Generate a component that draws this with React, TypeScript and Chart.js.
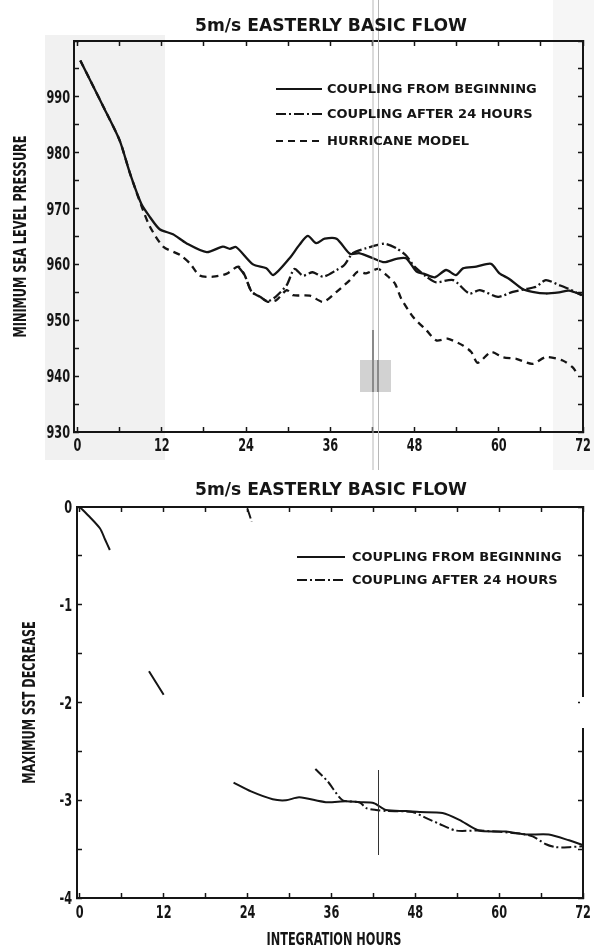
import { useEffect, useRef } from "react";
import { Chart, registerables } from "chart.js";

Chart.register(...registerables);

// ---------- text ----------
const TITLE = "5m/s EASTERLY BASIC FLOW";
const X_LABEL = "INTEGRATION HOURS";
const Y_LABEL_TOP = "MINIMUM SEA LEVEL PRESSURE";
const Y_LABEL_BOTTOM = "MAXIMUM SST DECREASE";
const LABEL_BEGIN = "COUPLING FROM BEGINNING";
const LABEL_AFTER24 = "COUPLING AFTER 24 HOURS";
const LABEL_HURRICANE = "HURRICANE MODEL";

// ---------- ticks ----------
const X_TICKS = [0, 6, 12, 18, 24, 30, 36, 42, 48, 54, 60, 66, 72];
const Y_TICKS_TOP = [930, 935, 940, 945, 950, 955, 960, 965, 970, 975, 980, 985, 990, 995, 1000];
const Y_TICKS_BOTTOM = [-4, -3.5, -3, -2.5, -2, -1.5, -1, -0.5, 0];

// ---------- top panel: minimum sea level pressure (mb) ----------
const P_BEGIN_HOURS = [0.4, 2, 3.7, 6, 7.5, 9.1, 10.3, 11.7, 13.6, 15.5, 18.4, 20.7, 21.7, 22.6, 25, 26.9, 27.9, 30.2, 31.6, 32.8, 34, 35.2, 36.9, 38.8, 40.2, 42.1, 43.7, 45.4, 46.8, 48.3, 49.4, 50.9, 52.5, 53.9, 54.9, 56.8, 58.9, 60.1, 61.5, 63.4, 64.8, 66.7, 68.6, 70, 72];
const P_BEGIN_VALUES = [996.5, 992.5, 988.2, 982.2, 976.2, 970.8, 968.5, 966.3, 965.4, 963.8, 962.2, 963.2, 962.8, 963.1, 960, 959.3, 958.1, 961.1, 963.5, 965.1, 963.8, 964.6, 964.6, 961.9, 962, 961.1, 960.4, 961, 961.1, 958.7, 958.3, 957.7, 959, 958.1, 959.3, 959.6, 960.1, 958.4, 957.4, 955.6, 955.1, 954.8, 955, 955.3, 954.5];

const P_AFTER24_HOURS = [22.9, 23.8, 24.8, 26, 27.1, 28.3, 29.8, 30.9, 32.1, 33.5, 35, 36.9, 38, 39.2, 41.1, 43.7, 45.4, 46.8, 48, 49.7, 51.1, 53.5, 55.8, 57.3, 59.9, 62, 63.9, 65.3, 66.7, 68.6, 70, 71.8];
const P_AFTER24_VALUES = [959.6, 958.1, 955.1, 954.2, 953.4, 954.3, 956.3, 959.2, 958, 958.6, 957.8, 959, 959.9, 962, 962.9, 963.7, 962.9, 961.6, 959.6, 957.8, 956.8, 957.2, 954.8, 955.4, 954.2, 955.1, 955.6, 956, 957.2, 956.3, 955.6, 954.5];

const P_HURRICANE_HOURS = [0.4, 2, 3.7, 6, 7.5, 9.1, 10.3, 12.2, 14.6, 16, 17.4, 19.3, 21.2, 22.9, 23.8, 24.8, 26, 27.1, 28.3, 29.8, 30.7, 33.1, 35, 36.9, 38.8, 39.9, 41.1, 42.8, 44, 45.2, 46.1, 47.8, 49.7, 51.1, 52.7, 54.9, 56.1, 57, 58.9, 60.6, 62.5, 64.8, 66.7, 69.1, 70.5, 71.2];
const P_HURRICANE_VALUES = [996.5, 992.5, 988.2, 982.2, 976.2, 970.5, 966.8, 963.2, 961.7, 960.2, 958, 957.8, 958.3, 959.6, 958.1, 955.1, 954.2, 953.3, 953.6, 955.4, 954.5, 954.4, 953.3, 955.1, 957.2, 958.7, 958.4, 959.2, 958.1, 956.6, 953.9, 950.6, 948.2, 946.4, 946.7, 945.5, 944.3, 942.4, 944.3, 943.4, 943.1, 942.2, 943.4, 942.8, 941.6, 940.4];

// ---------- bottom panel: maximum SST decrease (deg C); null = not visible ----------
const SST_BEGIN_HOURS = [0, 1.4, 2.9, 3.6, 4.3, 7, 9.9, 12, 17, 22, 24.5, 27.6, 29.5, 31.4, 35.2, 38.1, 40, 42.1, 43.8, 46.7, 48.6, 51.9, 54.3, 57.1, 61, 63.8, 67.1, 70, 72];
const SST_BEGIN_VALUES = [0, -0.1, -0.22, -0.33, -0.44, null, -1.68, -1.92, null, -2.82, -2.91, -2.99, -3.0, -2.97, -3.02, -3.01, -3.02, -3.03, -3.1, -3.11, -3.12, -3.13, -3.2, -3.31, -3.32, -3.35, -3.35, -3.41, -3.46];

const SST_AFTER24_HOURS = [24, 24.6, 28, 33.7, 35.5, 37.6, 40, 41, 42.4, 43.8, 47.6, 49.5, 51.4, 53.8, 57.1, 62.9, 64.8, 66.7, 68.1, 70, 72];
const SST_AFTER24_VALUES = [-0.02, -0.15, null, -2.68, -2.81, -3.0, -3.02, -3.08, -3.1, -3.11, -3.12, -3.18, -3.24, -3.31, -3.31, -3.34, -3.37, -3.45, -3.48, -3.48, -3.47];

// ---------- styling ----------
const INK = "#151515";
const NARROW = "'DejaVu Sans Condensed', 'DejaVu Sans', sans-serif";
const WIDE = "'DejaVu Sans', Verdana, sans-serif";
const NARROW_SCALE = 0.74;
const DASH_SOLID: number[] = [];
const DASH_DOTDASH = [10, 3, 2, 3];
const DASH_DASHED = [7, 5];

const zip = (xs: number[], ys: (number | null)[]) => xs.map((x, i) => ({ x, y: ys[i] }));

const fmtX = (v: number) => (v % 12 === 0 ? String(v) : "");
const fmtTopY = (v: number) => (v % 10 === 0 && v < 1000 ? String(v) : "");
const fmtBottomY = (v: number) => (Number.isInteger(v) ? String(v) : "");

function narrowText(
  ctx: CanvasRenderingContext2D,
  text: string,
  x: number,
  y: number,
  align: CanvasTextAlign,
  size: number,
  rotate = 0
) {
  ctx.save();
  ctx.translate(x, y);
  if (rotate) ctx.rotate(rotate);
  ctx.scale(NARROW_SCALE, 1);
  ctx.font = `bold ${size}px ${NARROW}`;
  ctx.fillStyle = INK;
  ctx.textAlign = align;
  ctx.textBaseline = "alphabetic";
  ctx.fillText(text, 0, 0);
  ctx.restore();
}

type Decor = {
  titleY: number;
  legendY: number[];
  legendX1: number;
  legendX2: number;
  legendTextX: number;
  yFmt: (v: number) => string;
  yLabelGap: number;
  xLabelDrop: number;
  yTitle: string;
  yTitleX: number;
  xTitle?: string;
  xTitleY?: number;
  before?: (ctx: CanvasRenderingContext2D) => void;
  after?: (ctx: CanvasRenderingContext2D) => void;
};

function decorPlugin(d: Decor) {
  return {
    id: "decor",
    beforeDraw(chart: any) {
      const ctx = chart.ctx as CanvasRenderingContext2D;
      ctx.save();
      ctx.fillStyle = "#ffffff";
      ctx.fillRect(0, 0, chart.width, chart.height);
      if (d.before) d.before(ctx);
      ctx.restore();
    },
    afterDraw(chart: any) {
      const ctx = chart.ctx as CanvasRenderingContext2D;
      const area = chart.chartArea;
      const xs = chart.scales.x;
      const ys = chart.scales.y;
      ctx.save();
      if (d.after) d.after(ctx);

      // tick labels, placed from the scales' own ticks
      xs.ticks.forEach((t: any) => {
        const s = fmtX(t.value);
        if (s) narrowText(ctx, s, xs.getPixelForValue(t.value), area.bottom + d.xLabelDrop, "center", 17);
      });
      ys.ticks.forEach((t: any) => {
        const s = d.yFmt(t.value);
        if (s) narrowText(ctx, s, area.left - d.yLabelGap, ys.getPixelForValue(t.value) + 6, "right", 17);
      });
      // axis titles
      narrowText(ctx, d.yTitle, d.yTitleX, (area.top + area.bottom) / 2, "center", 17, -Math.PI / 2);
      if (d.xTitle && d.xTitleY) narrowText(ctx, d.xTitle, (area.left + area.right) / 2 + 4, d.xTitleY, "center", 17);

      // title
      ctx.fillStyle = INK;
      ctx.font = `bold 18px ${WIDE}`;
      ctx.textAlign = "center";
      ctx.textBaseline = "alphabetic";
      ctx.fillText(TITLE, 331, d.titleY, 272);
      // legend
      chart.data.datasets.forEach((ds: any, i: number) => {
        const y = d.legendY[i];
        ctx.strokeStyle = INK;
        ctx.lineWidth = 2;
        ctx.setLineDash(ds.borderDash || []);
        ctx.beginPath();
        ctx.moveTo(d.legendX1, y);
        ctx.lineTo(d.legendX2, y);
        ctx.stroke();
        ctx.setLineDash([]);
        ctx.font = `bold 13px ${WIDE}`;
        ctx.textAlign = "left";
        ctx.textBaseline = "middle";
        ctx.fillStyle = INK;
        ctx.fillText(ds.label, d.legendTextX, y + 1);
      });
      ctx.restore();
    },
  };
}

function buildScales(o: { xMin: number; yMin: number; yMax: number; yTicks: number[]; yWidth: number; xHeight: number }) {
  const setTicks = (vals: number[]) => (s: any) => {
    s.ticks = vals.map((v) => ({ value: v }));
  };
  const fit = (w: number | null, h: number | null) => (s: any) => {
    if (w !== null) s.width = w;
    if (h !== null) s.height = h;
    s.paddingLeft = 0;
    s.paddingRight = 0;
    s.paddingTop = 0;
    s.paddingBottom = 0;
  };
  const grid = { drawOnChartArea: false, drawTicks: true, tickLength: -5, tickColor: INK, tickWidth: 1.5, color: INK };
  const border = { display: true, color: INK, width: 2 };
  return {
    x: {
      type: "linear" as const,
      position: "bottom" as const,
      min: o.xMin,
      max: 72,
      afterBuildTicks: setTicks(X_TICKS),
      afterFit: fit(null, o.xHeight),
      grid,
      border,
      ticks: { display: false },
    },
    xTop: {
      type: "linear" as const,
      position: "top" as const,
      min: o.xMin,
      max: 72,
      afterBuildTicks: setTicks(X_TICKS),
      afterFit: fit(null, 0),
      grid,
      border,
      ticks: { display: false },
    },
    y: {
      type: "linear" as const,
      position: "left" as const,
      min: o.yMin,
      max: o.yMax,
      afterBuildTicks: setTicks(o.yTicks),
      afterFit: fit(o.yWidth, null),
      grid,
      border,
      ticks: { display: false },
    },
    yRight: {
      type: "linear" as const,
      position: "right" as const,
      min: o.yMin,
      max: o.yMax,
      afterBuildTicks: setTicks(o.yTicks),
      afterFit: fit(0, null),
      grid,
      border,
      ticks: { display: false },
    },
  };
}

function lineDs(label: string, data: any[], dash: number[], width: number) {
  return {
    label,
    data,
    borderColor: INK,
    borderWidth: width,
    borderDash: dash,
    pointRadius: 0,
    tension: 0.25,
    spanGaps: false,
    fill: false,
  };
}

export default function App() {
  const topRef = useRef<HTMLCanvasElement | null>(null);
  const botRef = useRef<HTMLCanvasElement | null>(null);

  useEffect(() => {
    if (!topRef.current || !botRef.current) return;

    const top = new Chart(topRef.current, {
      type: "line",
      data: {
        datasets: [
          lineDs(LABEL_BEGIN, zip(P_BEGIN_HOURS, P_BEGIN_VALUES), DASH_SOLID, 2.3),
          lineDs(LABEL_AFTER24, zip(P_AFTER24_HOURS, P_AFTER24_VALUES), DASH_DOTDASH, 2.3),
          lineDs(LABEL_HURRICANE, zip(P_HURRICANE_HOURS, P_HURRICANE_VALUES), DASH_DASHED, 2.3),
        ],
      },
      options: {
        responsive: false,
        animation: false,
        devicePixelRatio: 1,
        layout: { padding: { left: 0, right: 11, top: 41, bottom: 0 } },
        plugins: { legend: { display: false }, title: { display: false }, tooltip: { enabled: false } },
        scales: buildScales({ xMin: -0.5, yMin: 930, yMax: 1000, yTicks: Y_TICKS_TOP, yWidth: 74, xHeight: 38 }) as any,
      },
      plugins: [
        decorPlugin({
          titleY: 31,
          legendY: [89, 114, 141],
          legendX1: 276,
          legendX2: 322,
          legendTextX: 327,
          yFmt: fmtTopY,
          yLabelGap: 4,
          xLabelDrop: 19,
          yTitle: Y_LABEL_TOP,
          yTitleX: 26,
          before: (ctx) => {
            ctx.fillStyle = "#f1f1f1";
            ctx.fillRect(45, 35, 120, 425);
            ctx.fillStyle = "#f6f6f6";
            ctx.fillRect(553, 0, 41, 470);
          },
          after: (ctx) => {
            ctx.strokeStyle = "#b8b8b8";
            ctx.lineWidth = 1;
            ctx.beginPath();
            ctx.moveTo(373, 0);
            ctx.lineTo(373, 470);
            ctx.moveTo(378.5, 0);
            ctx.lineTo(378.5, 470);
            ctx.stroke();
            ctx.fillStyle = "#d2d2d2";
            ctx.fillRect(360, 360, 31, 32);
            ctx.fillStyle = "#8a8a8a";
            ctx.fillRect(372, 330, 2, 62);
            ctx.fillRect(377, 360, 2, 32);
          },
        }),
      ],
    });

    const bottom = new Chart(botRef.current, {
      type: "line",
      data: {
        datasets: [
          lineDs(LABEL_BEGIN, zip(SST_BEGIN_HOURS, SST_BEGIN_VALUES), DASH_SOLID, 2),
          lineDs(LABEL_AFTER24, zip(SST_AFTER24_HOURS, SST_AFTER24_VALUES), DASH_DOTDASH, 2),
        ],
      },
      options: {
        responsive: false,
        animation: false,
        devicePixelRatio: 1,
        layout: { padding: { left: 0, right: 11, top: 37, bottom: 0 } },
        plugins: { legend: { display: false }, title: { display: false }, tooltip: { enabled: false } },
        scales: buildScales({ xMin: -0.4, yMin: -4, yMax: 0, yTicks: Y_TICKS_BOTTOM, yWidth: 77, xHeight: 49 }) as any,
      },
      plugins: [
        decorPlugin({
          titleY: 25,
          legendY: [87, 110],
          legendX1: 297,
          legendX2: 345,
          legendTextX: 352,
          yFmt: fmtBottomY,
          yLabelGap: 5,
          xLabelDrop: 20,
          yTitle: Y_LABEL_BOTTOM,
          yTitleX: 35,
          xTitle: X_LABEL,
          xTitleY: 475,
          after: (ctx) => {
            ctx.fillStyle = "#ffffff";
            ctx.fillRect(580, 227, 8, 31);
            ctx.strokeStyle = "#333333";
            ctx.lineWidth = 1;
            ctx.beginPath();
            ctx.moveTo(378.5, 300);
            ctx.lineTo(378.5, 385);
            ctx.stroke();
          },
        }),
      ],
    });

    return () => {
      top.destroy();
      bottom.destroy();
    };
  }, []);

  return (
    <div style={{ position: "absolute", left: 0, top: 0, width: 594, height: 947, background: "#fff" }}>
      <canvas ref={topRef} width={594} height={470} style={{ position: "absolute", left: 0, top: 0, display: "block" }} />
      <canvas ref={botRef} width={594} height={477} style={{ position: "absolute", left: 0, top: 470, display: "block" }} />
    </div>
  );
}
